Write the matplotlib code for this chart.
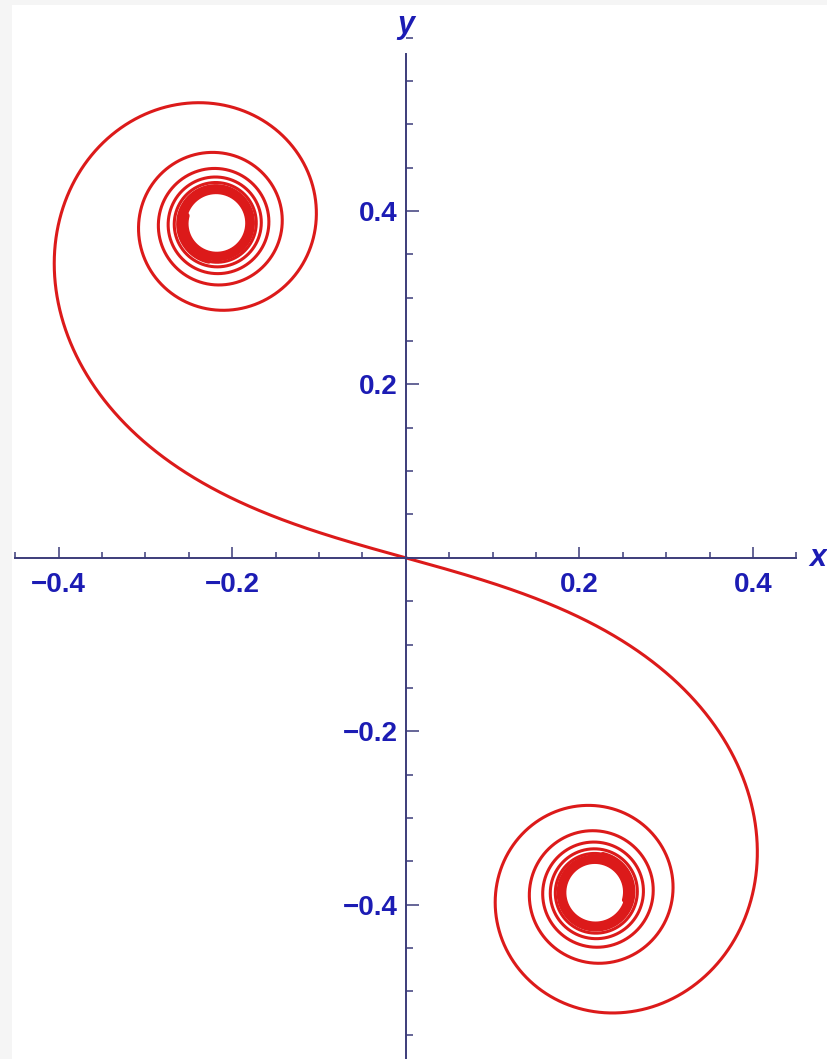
import numpy as np
import matplotlib.pyplot as plt
from matplotlib.ticker import MultipleLocator

# Clothoid (Cornu spiral): z(t) = scale * exp(i*rot) * integral_0^t exp(-i u^2) du
scale = 0.5
rot_deg = -15.5
t_max = 7.2
t_dense = 5.6   # beyond this the windings merge into a solid ring
n_pts = 60000

major_ticks = [-0.4, -0.2, 0.2, 0.4]
tick_labels = ["\u22120.4", "\u22120.2", "0.2", "0.4"]

t = np.linspace(0, t_max, n_pts)
f = np.exp(-1j * t**2)
z_pos = np.concatenate([[0], np.cumsum((f[1:] + f[:-1]) / 2 * np.diff(t))])
z_pos = scale * np.exp(1j * np.deg2rad(rot_deg)) * z_pos
z = np.concatenate([-z_pos[::-1], z_pos[1:]])
tt = np.concatenate([-t[::-1], t[1:]])
x, y = z.real, z.imag

axis_col = "#3c3c7a"
label_col = "#1c1cb4"
curve_col = "#dc1a1a"

fig = plt.figure(figsize=(8.27, 10.59), dpi=100, facecolor="#f5f5f5")
ax = fig.add_axes([12 / 827, 0, 815 / 827, 1054 / 1059], facecolor="white")

ax.plot(x, y, color=curve_col, lw=2.2, solid_capstyle="round")
for sgn in (1, -1):
    m = sgn * tt > t_dense
    ax.plot(x[m], y[m], color=curve_col, lw=3.4, solid_capstyle="round")

ax.set_xlim(-0.4537, 0.4853)
ax.set_ylim(-0.578, 0.6376)

for side in ["top", "right"]:
    ax.spines[side].set_visible(False)
for side in ["left", "bottom"]:
    ax.spines[side].set_position("zero")
    ax.spines[side].set_color(axis_col)
    ax.spines[side].set_linewidth(1.4)
ax.spines["bottom"].set_bounds(-0.45, 0.45)
ax.spines["left"].set_bounds(-0.6, 0.581)

ax.set_xticks(major_ticks)
ax.set_xticklabels(tick_labels)
ax.set_yticks(major_ticks)
ax.set_yticklabels(tick_labels)
ax.xaxis.set_minor_locator(MultipleLocator(0.05))
ax.yaxis.set_minor_locator(MultipleLocator(0.05))

ax.tick_params(which="both", direction="in", color=axis_col, width=1.1)
ax.tick_params(axis="x", which="major", length=8, pad=10.5)
ax.tick_params(axis="x", which="minor", length=4.3)
ax.tick_params(axis="y", which="major", length=9.5, pad=6)
ax.tick_params(axis="y", which="minor", length=5)

for lab in ax.get_xticklabels() + ax.get_yticklabels():
    lab.set_fontfamily("Liberation Sans")
    lab.set_fontweight("bold")
    lab.set_fontsize(20)
    lab.set_color(label_col)

ax.text(0.4645, 0.0, "x", fontsize=22, fontweight="bold", style="italic",
        family="Liberation Sans", color=label_col, ha="left", va="center")
ax.text(0.0, 0.614, "y", fontsize=22, fontweight="bold", style="italic",
        family="Liberation Sans", color=label_col, ha="center", va="center")

fig.savefig("out.png", dpi=100, facecolor=fig.get_facecolor())
